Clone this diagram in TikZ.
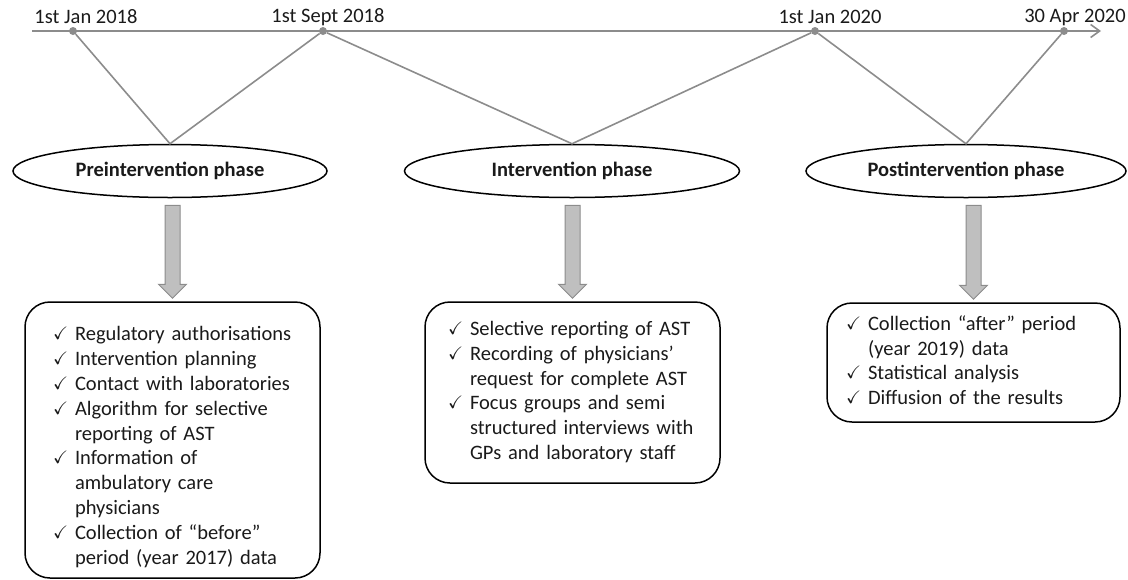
\documentclass[tikz,border=0pt]{standalone}
\usepackage{fontspec}
\setmainfont{Carlito}
\usepackage{amssymb}
\usetikzlibrary{calc,shapes.geometric,arrows.meta}
\definecolor{linegray}{HTML}{8C8C8C}
\definecolor{arrowfill}{HTML}{BFBFBF}
\definecolor{inkgray}{HTML}{1A1A1A}
\def\blockarrow(#1)(#2){\draw[bigarrow] ($(#2 |- #1)+(-7.5,7)$) -- ($(#2 |- #1)+(7.5,7)$) -- ($(#2)+(7.5,-17)$) -- ($(#2)+(14,-17)$) -- ($(#2)+(0,-3)$) -- ($(#2)+(-14,-17)$) -- ($(#2)+(-7.5,-17)$) -- cycle;}
\newcommand{\tick}{\raisebox{1pt}{\scalebox{0.88}{$\checkmark$}}}
\tikzset{
	datelbl/.style={text=inkgray, inner sep=0},
	dot/.style={circle, fill=linegray, inner sep=0, minimum size=8},
	phase/.style={ellipse, draw=black, line width=1.5, fill=white, inner sep=0, minimum height=53, text=inkgray, font=\fontsize{20.5}{24.8}\selectfont\bfseries},
	link/.style={draw=linegray, line width=1.6},
	bigarrow/.style={draw=linegray, fill=arrowfill, line width=1},
	taskbox/.style={draw=black, line width=1.5, rounded corners=25, align=left, inner ysep=0, text=inkgray}
}
\begin{document}
\begin{tikzpicture}[x=1pt, y=-1pt, font=\fontsize{20.5}{24.8}\selectfont]
				\useasboundingbox (0,0) rectangle (1128,579);
				
				\coordinate (tstart) at (32,31);
				\coordinate (tend) at (1101,31);
				\draw[link, -{Straight Barb[length=9,width=13]}] (tstart) -- (tend);
				
				\node[dot] (jan18) at (73,31) {};
				\node[dot] (sep18) at (323,31) {};
				\node[dot] (jan20) at (815,31) {};
				\node[dot] (apr20) at (1064,31) {};
				
				\node[datelbl] (jan18lbl) at (86,17) {1st Jan 2018};
				\node[datelbl] (sep18lbl) at (328,17) {1st Sept 2018};
				\node[datelbl] (jan20lbl) at (830,17) {1st Jan 2020};
				\node[datelbl] (apr20lbl) at (1075,17) {30 Apr 2020};
				
				\node[phase, minimum width=314] (pre) at (170,171) {Preintervention phase};
				\node[phase, minimum width=335] (inter) at (572,171) {Intervention phase};
				\node[phase, minimum width=320] (post) at (966,171) {Postintervention phase};
				
				\draw[link] (jan18) -- (pre.north) -- (sep18);
				\draw[link] (sep18) -- (inter.north) -- (jan20);
				\draw[link] (jan20) -- (post.north) -- (apr20);
				
				\node[taskbox, minimum height=276, inner xsep=28, text width=239] (prebox) at (172.5,440) {\begin{tabular}{@{}l@{\hspace{7pt}}l@{}}
					\tick & Regulatory authorisations\\
					\tick & Intervention planning\\
					\tick & Contact with laboratories\\
					\tick & Algorithm for selective\\
					& reporting of AST\\
					\tick & Information of\\
					& ambulatory care\\
					& physicians\\
					\tick & Collection of “before”\\
					& period (year 2017) data
				\end{tabular}\vspace*{-15pt}};
				
				\node[taskbox, minimum height=181, inner xsep=23, text width=249] (interbox) at (572.5,392.5) {\begin{tabular}{@{}l@{\hspace{7pt}}l@{}}
					\tick & Selective reporting of AST\\
					\tick & Recording of physicians’\\
					& request for complete AST\\
					\tick & Focus groups and semi\\
					& structured interviews with\\
					& GPs and laboratory staff
				\end{tabular}};
				
				\node[taskbox, minimum height=119, inner xsep=19, text width=255] (postbox) at (973.5,362.5) {\begin{tabular}{@{}l@{\hspace{7pt}}l@{}}
					\tick & Collection “after” period\\
					& (year 2019) data\\
					\tick & Statistical analysis\\
					\tick & Diffusion of the results
				\end{tabular}};
				
				\blockarrow(pre.south)(prebox.north)
				\blockarrow(inter.south)(interbox.north)
				\blockarrow(post.south)(postbox.north)
			\end{tikzpicture}
\end{document}
